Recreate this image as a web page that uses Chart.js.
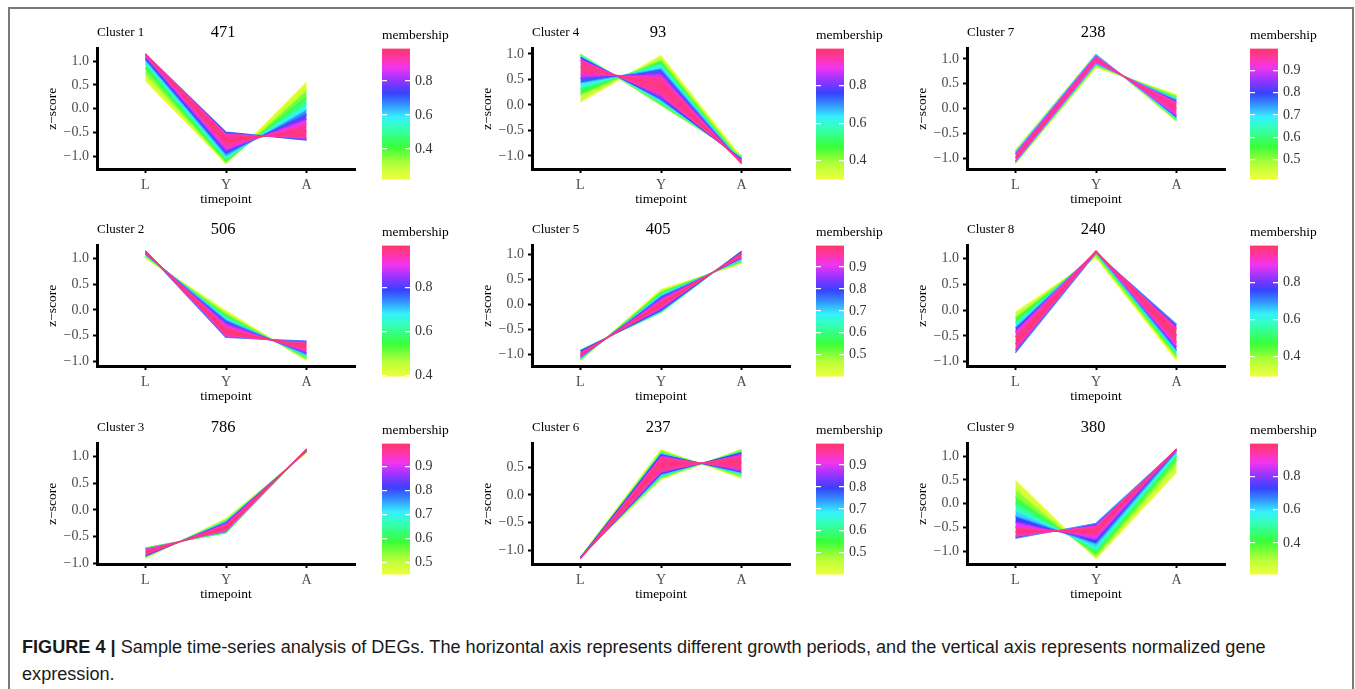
<!DOCTYPE html>
<html>
<head>
<meta charset="utf-8">
<script src="https://cdn.jsdelivr.net/npm/chart.js@4.4.1/dist/chart.umd.min.js"></script>
<style>
  html, body { margin: 0; padding: 0; background: #fff; width: 1355px; height: 689px; overflow: hidden; }
  #frame { position: absolute; left: 8px; top: 7px; width: 1342px; height: 720px; border: 2px solid #7a7a7a; }
  canvas { position: absolute; }
  .caption { position: absolute; left: 22px; font-family: 'Liberation Sans', Arial, sans-serif; font-size: 17.5px; color: #1a1a1a; white-space: nowrap; transform-origin: 0 0; }
</style>
</head>
<body>
<div id="frame"></div>
<div id="panels"></div>
<div class="caption" id="cap1" style="top:637px"><b>FIGURE 4 |</b> Sample time-series analysis of DEGs. The horizontal axis represents different growth periods, and the vertical axis represents normalized gene</div>
<div class="caption" id="cap2" style="top:664px">expression.</div>
<script>
// timepoints on the x axis
const timepoints = ['L', 'Y', 'A'];
const clusterNames = ['Cluster 1', 'Cluster 2', 'Cluster 3', 'Cluster 4', 'Cluster 5', 'Cluster 6', 'Cluster 7', 'Cluster 8', 'Cluster 9'];
const clusterSizes = [471, 506, 786, 93, 405, 237, 238, 240, 380];

// colour bar range and ticks per cluster
const membershipRanges = [
  [0.22, 0.99], [0.395, 0.99], [0.45, 0.995],
  [0.30, 0.998], [0.40, 0.998], [0.40, 0.998],
  [0.41, 0.999], [0.29, 0.998], [0.21, 0.998]
];
const membershipTicks = [
  [0.4, 0.6, 0.8], [0.4, 0.6, 0.8], [0.5, 0.6, 0.7, 0.8, 0.9],
  [0.4, 0.6, 0.8], [0.5, 0.6, 0.7, 0.8, 0.9], [0.5, 0.6, 0.7, 0.8, 0.9],
  [0.5, 0.6, 0.7, 0.8, 0.9], [0.4, 0.6, 0.8], [0.4, 0.6, 0.8]
];

// representative gene profiles, ordered across the band: [membership, L, Y, A]
const cluster1 = [
  [0.22, 0.59, -1.15, 0.56], [0.32, 0.74, -1.14, 0.39], [0.42, 0.86, -1.10, 0.24],
  [0.52, 0.95, -1.05, 0.10], [0.62, 1.01, -0.99, -0.02], [0.72, 1.05, -0.93, -0.12],
  [0.82, 1.09, -0.87, -0.22], [0.92, 1.12, -0.80, -0.32], [0.99, 1.15, -0.68, -0.47],
  [0.92, 1.15, -0.54, -0.61], [0.70, 1.15, -0.49, -0.66]
];
const cluster2 = [
  [0.40, 1.01, -0.02, -0.99], [0.50, 1.04, -0.08, -0.96], [0.60, 1.06, -0.14, -0.92],
  [0.72, 1.09, -0.20, -0.88], [0.84, 1.10, -0.26, -0.84], [0.93, 1.12, -0.32, -0.80],
  [0.97, 1.13, -0.38, -0.76], [0.99, 1.15, -0.45, -0.69], [0.93, 1.15, -0.51, -0.65],
  [0.75, 1.15, -0.54, -0.61]
];
const cluster3 = [
  [0.45, -0.91, -0.16, 1.07], [0.65, -0.88, -0.20, 1.09], [0.85, -0.86, -0.24, 1.10],
  [0.96, -0.83, -0.28, 1.11], [0.995, -0.79, -0.34, 1.13], [0.93, -0.74, -0.39, 1.14],
  [0.60, -0.71, -0.43, 1.14]
];
const cluster4 = [
  [0.42, 1.00, 0.00, -1.00], [0.60, 0.97, 0.06, -1.03], [0.76, 0.93, 0.12, -1.06],
  [0.93, 0.88, 0.20, -1.09], [0.998, 0.74, 0.39, -1.14], [0.93, 0.61, 0.54, -1.15],
  [0.80, 0.52, 0.63, -1.15], [0.68, 0.43, 0.71, -1.14], [0.55, 0.32, 0.80, -1.12],
  [0.42, 0.20, 0.88, -1.09], [0.30, 0.06, 0.97, -1.03]
];
const cluster5 = [
  [0.40, -1.12, 0.30, 0.82], [0.55, -1.10, 0.24, 0.86], [0.70, -1.08, 0.18, 0.90],
  [0.85, -1.05, 0.12, 0.93], [0.96, -1.03, 0.06, 0.97], [0.998, -1.00, 0.00, 1.00],
  [0.94, -0.97, -0.06, 1.03], [0.80, -0.93, -0.12, 1.06], [0.60, -0.91, -0.16, 1.07]
];
const cluster6 = [
  [0.40, -1.12, 0.82, 0.30], [0.60, -1.13, 0.77, 0.36], [0.80, -1.14, 0.73, 0.41],
  [0.95, -1.15, 0.68, 0.47], [0.998, -1.15, 0.56, 0.59], [0.95, -1.14, 0.43, 0.71],
  [0.80, -1.13, 0.38, 0.76], [0.60, -1.12, 0.32, 0.80], [0.40, -1.11, 0.28, 0.83]
];
const cluster7 = [
  [0.45, -0.84, 1.10, -0.26], [0.70, -0.88, 1.09, -0.20], [0.90, -0.92, 1.06, -0.14],
  [0.999, -1.00, 1.00, 0.00], [0.92, -1.06, 0.93, 0.12], [0.72, -1.08, 0.90, 0.18],
  [0.52, -1.10, 0.86, 0.24], [0.41, -1.11, 0.83, 0.28]
];
const cluster8 = [
  [0.29, -0.04, 1.02, -0.98], [0.40, -0.14, 1.06, -0.92], [0.52, -0.24, 1.10, -0.86],
  [0.68, -0.34, 1.13, -0.79], [0.88, -0.43, 1.14, -0.71], [0.96, -0.52, 1.15, -0.63],
  [0.998, -0.66, 1.15, -0.49], [0.93, -0.77, 1.13, -0.36], [0.70, -0.83, 1.11, -0.28]
];
const cluster9 = [
  [0.21, 0.49, -1.15, 0.66], [0.30, 0.30, -1.12, 0.82], [0.38, 0.14, -1.06, 0.92],
  [0.47, 0.00, -1.00, 1.00], [0.56, -0.14, -0.92, 1.06], [0.66, -0.26, -0.84, 1.10],
  [0.80, -0.38, -0.76, 1.13], [0.94, -0.49, -0.66, 1.15], [0.998, -0.59, -0.56, 1.15],
  [0.92, -0.68, -0.47, 1.15], [0.65, -0.73, -0.41, 1.14]
];
const clusters = [cluster1, cluster2, cluster3, cluster4, cluster5, cluster6, cluster7, cluster8, cluster9];

// colour scale, bottom (low membership) to top
const colorStops = [
  [0.00, '#f0ff3c'], [0.12, '#b4ff38'], [0.25, '#38ff38'], [0.40, '#34ffbc'],
  [0.48, '#34f0ff'], [0.57, '#3494ff'], [0.66, '#3842ff'], [0.76, '#9834ff'],
  [0.85, '#f034f2'], [0.93, '#ff36a4'], [1.00, '#ff366a']
];

const serif = "'Liberation Serif', 'Times New Roman', serif";
const panelLeft = [40, 475, 910];
const colorbarLeft = [382, 816, 1250];
const rowTop = [18, 215, 413];

function hexToRgb(h) {
  return [1, 3, 5].map(i => parseInt(h.slice(i, i + 2), 16));
}

function membershipColor(m, range) {
  let t = (m - range[0]) / (range[1] - range[0]);
  t = Math.min(1, Math.max(0, t));
  for (let i = 1; i < colorStops.length; i++) {
    if (t <= colorStops[i][0]) {
      const [t0, c0] = colorStops[i - 1];
      const [t1, c1] = colorStops[i];
      const f = (t - t0) / (t1 - t0);
      const a = hexToRgb(c0), b = hexToRgb(c1);
      const rgb = a.map((v, j) => Math.round(v + (b[j] - v) * f));
      return `rgb(${rgb[0]}, ${rgb[1]}, ${rgb[2]})`;
    }
  }
  return colorStops[colorStops.length - 1][1];
}

function makeCanvas(left, top, w, h) {
  const c = document.createElement('canvas');
  c.width = w; c.height = h;
  c.style.left = left + 'px'; c.style.top = top + 'px';
  c.style.width = w + 'px'; c.style.height = h + 'px';
  document.getElementById('panels').appendChild(c);
  return c;
}

function zTick(v) {
  if (Math.abs(v) < 1e-9) return '0.0';
  return v.toFixed(1).replace('-', '\u2212');
}

// cluster name and gene count above each panel
const panelLabels = {
  id: 'panelLabels',
  afterDraw(chart, args, opts) {
    const { ctx, chartArea } = chart;
    ctx.save();
    ctx.fillStyle = '#000';
    ctx.textBaseline = 'middle';
    ctx.textAlign = 'left';
    ctx.font = `13px ${serif}`;
    ctx.fillText(opts.name, chartArea.left, 15);
    ctx.textAlign = 'center';
    ctx.font = `16.5px ${serif}`;
    ctx.fillText(String(opts.size), (chartArea.left + chartArea.right) / 2 - 3, 14.5);
    ctx.restore();
  }
};

clusters.forEach((lines, k) => {
  const col = Math.floor(k / 3), row = k % 3;
  const range = membershipRanges[k];
  const peak = lines.reduce((best, l, i) => (l[0] > lines[best][0] ? i : best), 0);

  const datasets = lines.map((l, i) => {
    const target = i < peak ? i + 1 : (i > peak ? i - 1 : false);
    const mid = target === false ? l[0] : (l[0] + lines[target][0]) / 2;
    return {
      data: timepoints.map((_, j) => ({ x: j, y: l[j + 1] })),
      borderColor: membershipColor(l[0], range),
      backgroundColor: membershipColor(mid, range),
      borderWidth: 1.2,
      borderJoinStyle: 'round',
      pointRadius: 0,
      fill: target,
      order: Math.round((1 - l[0]) * 1000)
    };
  });

  const values = lines.flatMap(l => l.slice(1));
  const lo = Math.min(...values), hi = Math.max(...values);
  const pad = (hi - lo) * 0.05;

  new Chart(makeCanvas(panelLeft[col], rowTop[row], 325, 195), {
    type: 'line',
    data: { datasets },
    plugins: [panelLabels],
    options: {
      responsive: false,
      animation: false,
      devicePixelRatio: 1,
      layout: { padding: { top: 30.5, right: 10, left: 0, bottom: 0 } },
      plugins: {
        legend: { display: false },
        tooltip: { enabled: false },
        panelLabels: { name: clusterNames[k], size: clusterSizes[k] }
      },
      scales: {
        x: {
          type: 'linear',
          min: -0.6,
          max: 2.6,
          afterBuildTicks: s => { s.ticks = timepoints.map((_, i) => ({ value: i })); },
          afterFit: s => { s.height = 44; },
          border: { color: '#000', width: 3 },
          grid: { drawOnChartArea: false, tickLength: 4, tickColor: '#000', tickWidth: 2 },
          ticks: {
            padding: 4, color: '#4d4d4d', maxRotation: 0, autoSkip: false,
            font: { family: serif, size: 14 },
            callback: v => timepoints[v]
          },
          title: {
            display: true, text: 'timepoint', color: '#000',
            font: { family: serif, size: 13.5 },
            padding: { top: 0, bottom: 5 }
          }
        },
        y: {
          min: lo - pad,
          max: hi + pad,
          afterFit: s => { s.width = 57; },
          border: { color: '#000', width: 3 },
          grid: { drawOnChartArea: false, tickLength: 4, tickColor: '#000', tickWidth: 2 },
          ticks: {
            stepSize: 0.5, includeBounds: false, padding: 4, color: '#4d4d4d',
            font: { family: serif, size: 14 },
            callback: v => zTick(v)
          },
          title: {
            display: true, text: 'z\u2212score', color: '#000',
            font: { family: serif, size: 13.5 },
            padding: { top: 4.5, bottom: 0 }
          }
        }
      }
    }
  });

  // membership colour bar
  const ticks = membershipTicks[k];
  new Chart(makeCanvas(colorbarLeft[col], rowTop[row], 75, 175), {
    type: 'bar',
    data: {
      labels: [''],
      datasets: [{
        data: [range],
        borderWidth: 0,
        barPercentage: 1,
        categoryPercentage: 1,
        backgroundColor: c => {
          const a = c.chart.chartArea;
          if (!a) return null;
          const g = c.chart.ctx.createLinearGradient(0, a.bottom, 0, a.top);
          colorStops.forEach(([t, color]) => g.addColorStop(t, color));
          return g;
        }
      }]
    },
    options: {
      responsive: false,
      animation: false,
      devicePixelRatio: 1,
      layout: { padding: { top: 0, right: 0, left: 0, bottom: 3 } },
      plugins: {
        legend: { display: false },
        tooltip: { enabled: false },
        title: {
          display: true, text: 'membership', align: 'start', color: '#000',
          font: { family: serif, size: 13.5, weight: 'normal' },
          padding: { top: 9, bottom: 5.3 }
        }
      },
      scales: {
        x: { display: false },
        y: {
          position: 'right',
          min: range[0],
          max: range[1],
          afterFit: s => { s.width = 47; },
          afterBuildTicks: s => { s.ticks = ticks.map(v => ({ value: v })); },
          border: { display: false, dash: [5, 18] },
          grid: { color: '#ffffff', lineWidth: 1.2, drawTicks: false, z: 1 },
          ticks: {
            padding: 5, color: '#333333',
            font: { family: serif, size: 14 },
            callback: v => v.toFixed(1)
          }
        }
      }
    }
  });
});

// fit caption line to the reference width
const cap1 = document.getElementById('cap1');
const k1 = 1244 / cap1.offsetWidth;
cap1.style.transform = `scaleX(${k1})`;
document.getElementById('cap2').style.transform = `scaleX(${k1})`;
</script>
</body>
</html>
